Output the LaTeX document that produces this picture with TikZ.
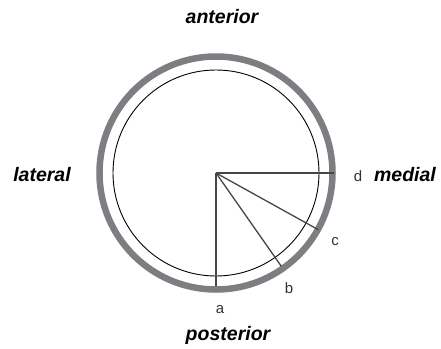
\documentclass[tikz,border=0pt]{standalone}
\usepackage{fontspec}
\setmainfont{Liberation Sans}
\usepackage{tikz}
\usetikzlibrary{calc}
\usepackage{xcolor}
\definecolor{ringgray}{RGB}{125,125,130}
\definecolor{spokegray}{RGB}{70,70,70}

\begin{document}
\begin{tikzpicture}[
  x=1pt,y=1pt,
  side/.style={font=\fontsize{19.5}{22}\selectfont\bfseries\itshape,inner sep=0pt},
  tag/.style={font=\fontsize{15}{17}\selectfont,inner sep=0pt,text=black!80},
  ring/.style={draw=ringgray,line width=6.5pt},
  inner/.style={draw=black,line width=0.9pt},
  spoke/.style={draw=spokegray,line width=1.3pt}
]
\useasboundingbox (-216,-175) rectangle (225,173);
\coordinate (o) at (0,0);
\draw[ring] (o) circle (116.5);
\draw[inner] (o) circle (103);

% ends of the spokes
\coordinate (pd) at (0:118);
\coordinate (pc) at (-29:117);
\coordinate (pb) at (-55:114);
\coordinate (pa) at (-90:113);

\draw[spoke] (o) -- (pd);
\draw[spoke] (o) -- (pc);
\draw[spoke] (o) -- (pb);
\draw[spoke] (o) -- (pa);

\node[tag] (d) at (142,-3) {d};
\node[tag] (c) at (119,-69) {c};
\node[tag] (b) at (73,-115) {b};
\node[tag] (a) at (4,-137) {a};

\node[side] (anterior) at (6,156) {anterior};
\node[side] (posterior) at (12,-162) {posterior};
\node[side] (lateral) at (-174,-2) {lateral};
\node[side] (medial) at (189,-2) {medial};
\end{tikzpicture}
\end{document}
